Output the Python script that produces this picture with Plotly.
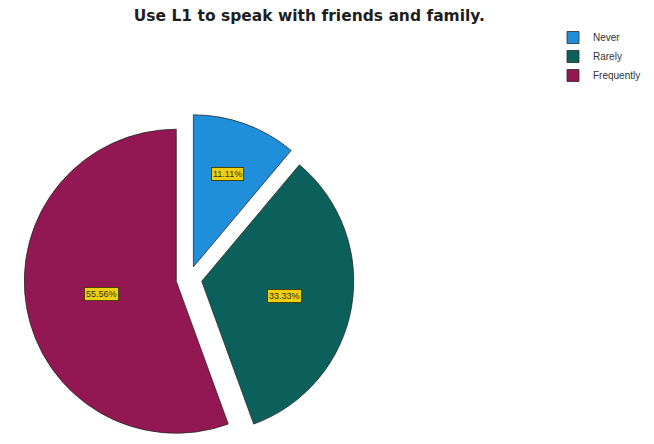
import math
import plotly.graph_objects as go

# Survey responses: "Use L1 to speak with friends and family."
categories = ["Never", "Rarely", "Frequently"]
counts = [1, 3, 5]
colors = ["#1f8fdc", "#0b605c", "#921753"]

W, H = 654, 444
CX, CY = 189, 279      # pie centre in pixels
R = 152                # slice radius in pixels
PULL = 0.085           # every slice is exploded by the same fraction

# plotly sizes the pie as min(box)/2 / (1 + max pull); build the domain from that
half = R * (1 + PULL)
dom_x = [(CX - half) / W, (CX + half) / W]
dom_y = [max(0.0, 1 - (CY + half) / H), min(1.0, 1 - (CY - half) / H)]

total = sum(counts)
percents = [100 * c / total for c in counts]
pct_text = [f"{p:.2f}%" for p in percents]

fig = go.Figure(
    go.Pie(
        labels=categories,
        values=counts,
        sort=False,
        direction="clockwise",
        rotation=0,
        pull=[PULL] * len(counts),
        marker=dict(colors=colors, line=dict(color="#2b2b2b", width=0.8)),
        textinfo="none",
        hovertemplate="%{label}: %{percent:.2%}<extra></extra>",
        domain=dict(x=dom_x, y=dom_y),
    )
)

# yellow value boxes placed inside each exploded slice
annotations = []
start = 0.0
for p_txt, c in zip(pct_text, counts):
    span = 360.0 * c / total
    mid = math.radians(start + span / 2)
    alpha = math.radians(span / 2)
    k = max(2 * math.sin(alpha) / (3 * alpha), 0.5)
    ox = CX + R * PULL * math.sin(mid)
    oy = CY - R * PULL * math.cos(mid)
    lx = ox + k * R * math.sin(mid)
    ly = oy - k * R * math.cos(mid)
    annotations.append(
        dict(
            x=lx / W, y=1 - ly / H, xref="paper", yref="paper",
            xanchor="center", yanchor="middle",
            text=p_txt, showarrow=False,
            bgcolor="#f0cf12", bordercolor="#4a4200", borderwidth=1, borderpad=1,
            font=dict(family="Liberation Sans, Arial, sans-serif", size=9, color="#33321c"),
        )
    )
    start += span

fig.update_layout(
    width=W,
    height=H,
    margin=dict(l=0, r=0, t=0, b=0),
    paper_bgcolor="white",
    plot_bgcolor="white",
    title=dict(
        text="<b>Use L1 to speak with friends and family.</b>",
        x=0.473, xanchor="center", xref="paper",
        y=1 - 16 / H, yanchor="middle", yref="container",
        font=dict(family="DejaVu Sans, Verdana, sans-serif", size=15.5, color="#1e1e1e"),
    ),
    legend=dict(
        x=553 / W, xanchor="left",
        y=1 - 23 / H, yanchor="top",
        font=dict(family="Liberation Sans, Arial, sans-serif", size=10, color="#333333"),
        bgcolor="rgba(0,0,0,0)",
        itemwidth=30,
        traceorder="normal",
    ),
    annotations=annotations,
    showlegend=True,
)

fig.write_html("out.html")
